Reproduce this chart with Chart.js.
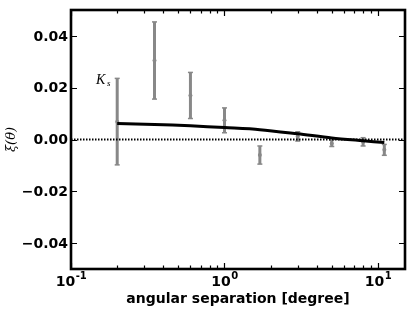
<!DOCTYPE html>
<html><head><meta charset="utf-8">
<script src="https://cdn.jsdelivr.net/npm/chart.js@4/dist/chart.umd.min.js"></script>
<style>html,body{margin:0;padding:0;background:#fff}#wrap{width:415px;height:312px}</style>
</head><body><div id="wrap"><canvas id="c" width="415" height="312"></canvas></div>
<script>
const sepDeg = [0.2, 0.35, 0.6, 1.0, 1.7, 3.0, 5.0, 8.0, 11.0];
const xiObs = [0.0069, 0.0305, 0.0170, 0.0074, -0.0060, 0.0012, -0.0015, -0.0009, -0.0040];
const xiErr = [0.0167, 0.0149, 0.0089, 0.0048, 0.0035, 0.0018, 0.0012, 0.0016, 0.0021];
const modelDeg = [0.2, 0.35, 0.6, 1.0, 1.7, 3.0, 5.0, 8.0, 11.0];
const xiModel = [0.0062, 0.0058, 0.0053, 0.0046, 0.0038, 0.0022, 0.0006, -0.0005, -0.0012];
const yTicks = [-0.04, -0.02, 0, 0.02, 0.04];
const xDecades = [0.1, 1, 10];
const xExp = ['-1', '0', '1'];
const xMin = 0.1, xMax = 15, yMin = -0.05, yMax = 0.05;

const errPlugin = {
  id: 'errbars',
  beforeDatasetsDraw(chart) {
    const ctx = chart.ctx, xs = chart.scales.x, ys = chart.scales.y;
    ctx.save();
    ctx.strokeStyle = '#888888';
    ctx.fillStyle = '#888888';
    sepDeg.forEach((d, i) => {
      const px = xs.getPixelForValue(d);
      const pt = ys.getPixelForValue(xiObs[i] + xiErr[i]);
      const pb = ys.getPixelForValue(xiObs[i] - xiErr[i]);
      const pc = ys.getPixelForValue(xiObs[i]);
      ctx.lineWidth = 3;
      ctx.beginPath(); ctx.moveTo(px, pt); ctx.lineTo(px, pb); ctx.stroke();
      ctx.lineWidth = 1.5;
      [pt, pb].forEach(py => {
        ctx.beginPath(); ctx.moveTo(px - 2.5, py); ctx.lineTo(px + 2.5, py); ctx.stroke();
      });
      ctx.beginPath(); ctx.arc(px, pc, 2, 0, Math.PI * 2); ctx.fill();
    });
    ctx.restore();
  }
};

const axesPlugin = {
  id: 'axesframe',
  afterDraw(chart) {
    const ctx = chart.ctx, xs = chart.scales.x, ys = chart.scales.y, a = chart.chartArea;
    ctx.save();
    ctx.strokeStyle = '#000';
    ctx.fillStyle = '#000';
    ctx.lineWidth = 1.2;
    const majL = 6, minL = 3.5;
    yTicks.forEach(v => {
      const py = Math.round(ys.getPixelForValue(v)) + 0.5;
      ctx.beginPath();
      ctx.moveTo(a.left, py); ctx.lineTo(a.left + majL, py);
      ctx.moveTo(a.right, py); ctx.lineTo(a.right - majL, py);
      ctx.stroke();
    });
    xDecades.forEach(dec => {
      for (let m = 1; m <= 9; m++) {
        const v = dec * m;
        if (v < xMin || v > xMax) continue;
        const px = Math.round(xs.getPixelForValue(v)) + 0.5;
        const L = m === 1 ? majL : minL;
        ctx.beginPath();
        ctx.moveTo(px, a.bottom); ctx.lineTo(px, a.bottom - L);
        ctx.moveTo(px, a.top); ctx.lineTo(px, a.top + L);
        ctx.stroke();
      }
    });
    ctx.lineWidth = 2.6;
    ctx.strokeRect(a.left, a.top, a.right - a.left, a.bottom - a.top);
    ctx.font = 'bold 14px "DejaVu Sans"';
    ctx.textAlign = 'right';
    ctx.textBaseline = 'middle';
    yTicks.forEach(v => {
      const py = ys.getPixelForValue(v);
      const s = v.toFixed(2).replace('-', '\u2212');
      ctx.fillText(s, a.left - 3, py + 1);
    });
    ctx.textBaseline = 'alphabetic';
    ctx.textAlign = 'left';
    xDecades.forEach((dec, i) => {
      const px = xs.getPixelForValue(dec);
      ctx.font = 'bold 14px "DejaVu Sans"';
      const w1 = ctx.measureText('10').width;
      ctx.font = 'bold 10px "DejaVu Sans"';
      const w2 = ctx.measureText(xExp[i]).width;
      const x0 = px - (w1 + w2) / 2;
      ctx.font = 'bold 14px "DejaVu Sans"';
      ctx.fillText('10', x0, 286);
      ctx.font = 'bold 10px "DejaVu Sans"';
      ctx.fillText(xExp[i], x0 + w1 + 0.5, 279);
    });
    ctx.font = 'bold 14px "DejaVu Sans"';
    ctx.textAlign = 'center';
    ctx.fillText('angular separation [degree]', (a.left + a.right) / 2, 303);
    ctx.save();
    ctx.translate(12, (a.top + a.bottom) / 2);
    ctx.rotate(-Math.PI / 2);
    ctx.font = 'italic 13px "DejaVu Serif"';
    ctx.textAlign = 'center';
    ctx.textBaseline = 'middle';
    ctx.fillText('\u03BE(\u03B8)', 0, 0);
    ctx.restore();
    ctx.textAlign = 'left';
    ctx.font = 'italic 14px "Liberation Serif"';
    ctx.fillText('K', 96, 84);
    ctx.font = 'italic 9px "Liberation Serif"';
    ctx.fillText('s', 107, 86);
    ctx.restore();
  }
};

new Chart(document.getElementById('c'), {
  type: 'scatter',
  data: {
    datasets: [
      {
        data: [{x: xMin, y: 0}, {x: xMax, y: 0}],
        showLine: true, borderColor: '#000', borderWidth: 1.8,
        borderDash: [1.5, 1.5], pointRadius: 0, order: 2
      },
      {
        data: modelDeg.map((d, i) => ({x: d, y: xiModel[i]})),
        showLine: true, borderColor: '#000', borderWidth: 3,
        pointRadius: 0, tension: 0.3, order: 1
      }
    ]
  },
  options: {
    responsive: false,
    animation: false,
    layout: {padding: {left: 71, right: 10, top: 10, bottom: 43}},
    plugins: {legend: {display: false}, tooltip: {enabled: false}},
    scales: {
      x: {type: 'logarithmic', min: xMin, max: xMax, display: false},
      y: {type: 'linear', min: yMin, max: yMax, display: false}
    }
  },
  plugins: [errPlugin, axesPlugin]
});
</script>
</body></html>
